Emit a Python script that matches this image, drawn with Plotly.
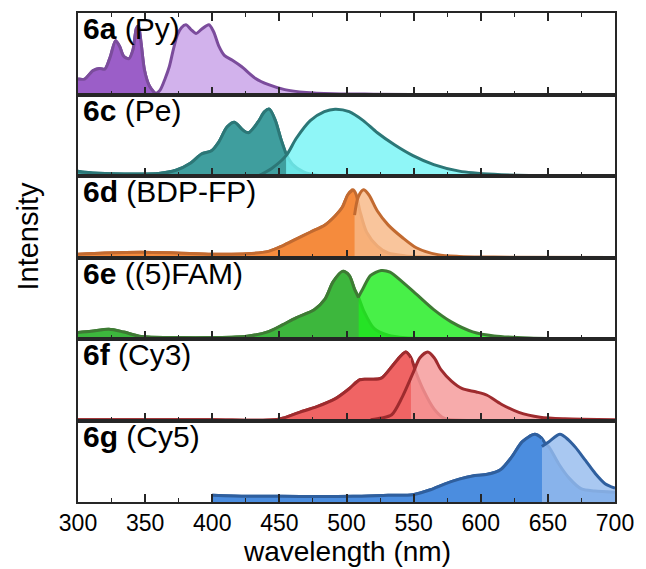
import numpy as np
import plotly.graph_objects as go
from plotly.subplots import make_subplots

# ---------------- data ----------------
labels_bold = ["6a", "6c", "6d", "6e", "6f", "6g"]
labels_name = ["(Py)", "(Pe)", "(BDP-FP)", "((5)FAM)", "(Cy3)", "(Cy5)"]

py_abs_x = [300, 305, 311, 316, 320, 324, 328, 331, 334, 338, 341, 343.5, 345, 347, 349.5, 353, 357, 362, 700]
py_abs_y = [0.19, 0.19, 0.29, 0.32, 0.31, 0.46, 0.66, 0.59, 0.47, 0.44, 0.55, 0.81, 0.84, 0.63, 0.30, 0.11, 0.02, 0.0, 0.0]
py_em_x = [357, 361, 365, 368, 371, 374, 377, 380.5, 384, 388, 392, 397.5, 401, 405, 409, 415, 422, 432, 442, 454, 470, 490, 520, 560, 700]
py_em_y = [0.0, 0.05, 0.20, 0.34, 0.55, 0.73, 0.82, 0.855, 0.80, 0.75, 0.80, 0.855, 0.77, 0.59, 0.48, 0.42, 0.34, 0.20, 0.12, 0.06, 0.025, 0.01, 0.004, 0.0, 0.0]

pe_abs_x = [300, 305, 320, 340, 360, 373, 384, 392, 399.5, 405, 411, 416.5, 423, 427, 434, 439, 442.5, 447, 451, 455, 460, 468, 478, 490, 700]
pe_abs_y = [0.06, 0.045, 0.03, 0.025, 0.03, 0.07, 0.16, 0.27, 0.31, 0.42, 0.60, 0.66, 0.56, 0.53, 0.66, 0.79, 0.82, 0.68, 0.46, 0.27, 0.14, 0.05, 0.01, 0.0, 0.0]
pe_em_x = [434, 444, 455, 462.5, 473, 483.5, 491.5, 502, 512.5, 523, 536, 549.5, 565, 584, 610, 636, 700]
pe_em_y = [0.0, 0.09, 0.25, 0.46, 0.68, 0.79, 0.82, 0.79, 0.68, 0.53, 0.38, 0.25, 0.14, 0.06, 0.02, 0.005, 0.0]

bdp_abs_x = [300, 320, 347, 373, 400, 426, 442, 452, 462.5, 473, 484, 491.5, 497, 501, 504.7, 507, 510, 515, 523, 531, 544, 557, 580, 700]
bdp_abs_y = [0.04, 0.055, 0.065, 0.055, 0.04, 0.045, 0.075, 0.14, 0.225, 0.31, 0.40, 0.51, 0.62, 0.77, 0.83, 0.78, 0.57, 0.31, 0.14, 0.055, 0.02, 0.01, 0.0, 0.0]
bdp_em_x = [506, 508.7, 512.6, 516.6, 523, 531, 541.6, 552, 568, 584, 610, 700]
bdp_em_y = [0.52, 0.74, 0.83, 0.77, 0.57, 0.40, 0.245, 0.12, 0.035, 0.013, 0.005, 0.0]

fam_abs_x = [300, 310, 323, 334, 347, 373, 400, 426, 442, 452, 462.5, 476, 484, 490, 497, 502, 506, 509, 513, 520.5, 531, 544, 570, 700]
fam_abs_y = [0.08, 0.095, 0.12, 0.085, 0.03, 0.017, 0.017, 0.034, 0.09, 0.17, 0.26, 0.36, 0.49, 0.70, 0.83, 0.78, 0.61, 0.51, 0.34, 0.13, 0.046, 0.015, 0.0, 0.0]
fam_em_x = [508.7, 512.6, 518, 525.8, 532.4, 541.6, 552, 565, 578, 594, 610, 636, 663, 700]
fam_em_y = [0.51, 0.63, 0.78, 0.84, 0.82, 0.70, 0.55, 0.36, 0.21, 0.088, 0.038, 0.013, 0.005, 0.0]

cy3_abs_x = [300, 350, 400, 449.5, 465, 478, 491.5, 502, 510, 518, 526, 533.7, 540.3, 544.2, 548, 552, 557.4, 565.3, 573, 590, 700]
cy3_abs_y = [0.01, 0.01, 0.01, 0.015, 0.10, 0.17, 0.265, 0.39, 0.50, 0.505, 0.52, 0.66, 0.79, 0.84, 0.77, 0.58, 0.37, 0.14, 0.025, 0.0, 0.0]
cy3_em_x = [518, 526, 533.7, 541.6, 549.5, 554.7, 560.5, 565.3, 570.5, 578.4, 586.3, 596.8, 604.7, 615.3, 628.4, 644.2, 662.6, 700]
cy3_em_y = [0.01, 0.03, 0.07, 0.29, 0.58, 0.77, 0.84, 0.77, 0.62, 0.48, 0.39, 0.35, 0.31, 0.20, 0.10, 0.04, 0.02, 0.01]

cy5_abs_x = [400, 426, 452, 478, 505, 531, 549.5, 562.6, 573, 584, 594, 605, 615, 623, 631, 640.3, 645.5, 648, 651, 658, 666, 675, 685, 700]
cy5_abs_y = [0.083, 0.07, 0.07, 0.067, 0.07, 0.083, 0.09, 0.15, 0.22, 0.28, 0.32, 0.34, 0.40, 0.55, 0.74, 0.83, 0.78, 0.72, 0.67, 0.47, 0.29, 0.16, 0.135, 0.12]
cy5_em_x = [645.5, 650.8, 659, 665.5, 670.6, 678, 685.3, 692.6, 700]
cy5_em_y = [0.68, 0.74, 0.83, 0.76, 0.67, 0.51, 0.35, 0.225, 0.17]

x_ticks = [300, 350, 400, 450, 500, 550, 600, 650, 700]

# ---------------- styles ----------------
abs_fill = ["#9b5ec8", "#3f9e9e", "#f58b3d", "#3db73d", "#f06464", "#4b8ddf"]
em_vis = ["#d2b2ec", "#8ff6f7", "#f9c59c", "#48f048", "#f7abab", "#a9c8f1"]
line_col = ["#7b4c9c", "#2c7777", "#c26a30", "#3e7b34", "#9e2b2e", "#2f5f9e"]
EM_ALPHA = 0.82


def em_rgba(hexcol, a):
    r, g, b = (int(hexcol[i:i + 2], 16) for i in (1, 3, 5))
    f = lambda c: int(round(min(255, max(0, (c - (1 - a) * 255) / a))))
    return f"rgba({f(r)},{f(g)},{f(b)},{a})"


series = [
    (py_abs_x, py_abs_y, py_em_x, py_em_y),
    (pe_abs_x, pe_abs_y, pe_em_x, pe_em_y),
    (bdp_abs_x, bdp_abs_y, bdp_em_x, bdp_em_y),
    (fam_abs_x, fam_abs_y, fam_em_x, fam_em_y),
    (cy3_abs_x, cy3_abs_y, cy3_em_x, cy3_em_y),
    (cy5_abs_x, cy5_abs_y, cy5_em_x, cy5_em_y),
]

fig = make_subplots(rows=6, cols=1, shared_xaxes=True, vertical_spacing=0)
SM = 0.8
LW = 3


def line_trace(x, y, col):
    return go.Scatter(x=x, y=y, mode="lines",
                      line=dict(width=LW, shape="spline", smoothing=SM, color=col),
                      hoverinfo="skip", showlegend=False)


def fill_trace(x, y, fcol):
    return go.Scatter(x=x, y=y, mode="lines", fill="tozeroy", fillcolor=fcol,
                      line=dict(width=0, shape="spline", smoothing=SM),
                      hoverinfo="skip", showlegend=False)


for i, (axx, ayy, exx, eyy) in enumerate(series):
    row = i + 1
    ax_, ay_ = np.array(axx, float), np.array(ayy, float)
    ex_, ey_ = np.array(exx, float), np.array(eyy, float)
    if ey_[0] > 0.05:
        split = ex_[0]
    else:
        k = int(np.argmax(ey_ >= np.interp(ex_, ax_, ay_, left=0, right=0)))
        split = ex_[max(k - 1, 0)]
    m = ax_ <= split + 0.5
    fig.add_trace(fill_trace(ax_, ay_, abs_fill[i]), row=row, col=1)          # absorption fill
    fig.add_trace(line_trace(ax_, ay_, line_col[i]), row=row, col=1)          # faint abs line
    fig.add_trace(fill_trace(ex_, ey_, em_rgba(em_vis[i], EM_ALPHA)), row=row, col=1)  # emission fill
    fig.add_trace(fill_trace(ax_[m], ay_[m], abs_fill[i]), row=row, col=1)    # absorption on top (left part)
    fig.add_trace(line_trace(ex_, ey_, line_col[i]), row=row, col=1)          # emission line
    fig.add_trace(line_trace(ax_[m], ay_[m], line_col[i]), row=row, col=1)    # absorption line (left part)
    fig.add_annotation(text=f"<b>{labels_bold[i]}</b> {labels_name[i]}",
                       xref=f"x{'' if row == 1 else row} domain", yref=f"y{'' if row == 1 else row} domain",
                       x=0, y=1, xanchor="left", yanchor="top", xshift=3, yshift=3,
                       showarrow=False, font=dict(size=30, color="black"))

FRAME = "#262626"
for row in range(1, 7):
    fig.update_xaxes(range=[300, 700], showline=True, linecolor=FRAME, linewidth=1.5,
                     mirror=("ticks" if row == 1 else True),
                     ticks="inside", tickvals=x_ticks, ticklen=8, tickwidth=1.5, tickcolor=FRAME,
                     minor=dict(ticks="inside", dtick=25, tick0=300, ticklen=4, tickwidth=1.2, tickcolor=FRAME),
                     showgrid=False, zeroline=False, showticklabels=(row == 6),
                     tickfont=dict(size=23, color="black"), ticklabelstandoff=0,
                     row=row, col=1)
    fig.update_yaxes(range=[0, 1], showline=True, linecolor=FRAME, linewidth=1.5, mirror=True,
                     ticks="", showticklabels=False, showgrid=False, zeroline=False,
                     row=row, col=1)

fig.add_annotation(text="Intensity", xref="paper", yref="paper", x=-0.094, y=0.544,
                   xanchor="center", yanchor="middle", textangle=-90, showarrow=False,
                   font=dict(size=29, color="black"))
fig.add_annotation(text="wavelength (nm)", xref="paper", yref="paper", x=0.5, y=-0.102,
                   xanchor="center", yanchor="middle", showarrow=False, borderpad=0,
                   font=dict(size=28, color="black"))

fig.update_layout(width=646, height=569, margin=dict(l=78, r=26, t=13, b=67),
                  paper_bgcolor="white", plot_bgcolor="white",
                  font=dict(family="Liberation Sans, Arial, sans-serif", color="black"),
                  showlegend=False)

fig.write_html("out.html")
